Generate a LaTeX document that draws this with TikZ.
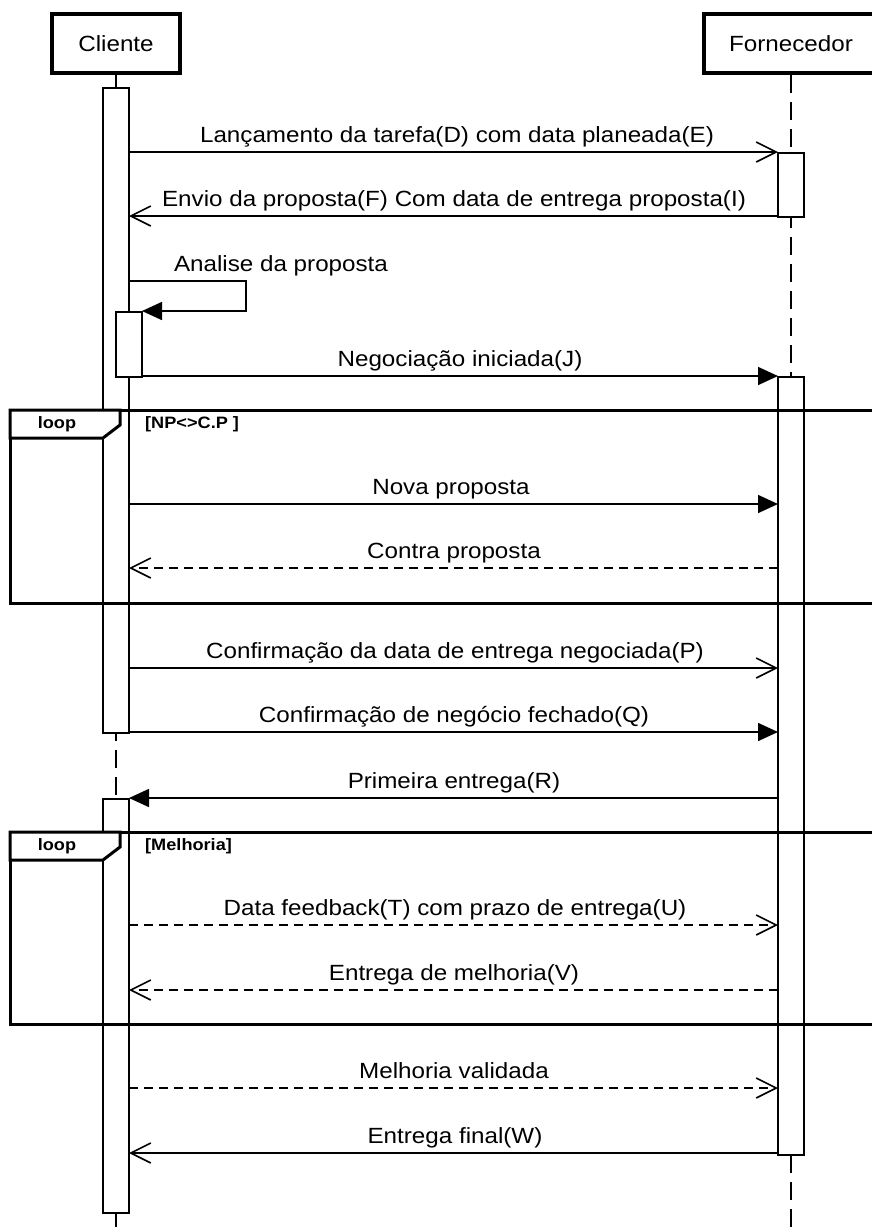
\documentclass[tikz,border=0pt]{standalone}
\usepackage{fontspec}
\setmainfont{Liberation Sans}[FakeStretch=1.1]
\usetikzlibrary{arrows.meta}
\begin{document}
\begin{tikzpicture}[x=1pt,y=-1pt,
  lbl/.style={font=\fontsize{22}{24}\selectfont, inner sep=0pt, anchor=base},
  hdrbox/.style={draw, line width=3.5pt, minimum height=59pt, font=\fontsize{22}{24}\selectfont},
  actbar/.style={draw, fill=white, line width=1.6pt, minimum width=26pt, anchor=north, inner sep=0pt},
  lifeln/.style={line width=1.8pt, dash pattern=on 18pt off 9pt},
  msg/.style={line width=1.6pt},
  dsh/.style={dash pattern=on 9pt off 6pt},
  opentip/.style={-{Straight Barb[length=20pt,width=20pt,line width=1.6pt]}},
  filltip/.style={-{Triangle[length=20pt,width=18pt]}},
  frm/.style={line width=3pt},
  looplbl/.style={font=\bfseries\fontsize{16.5}{18}\selectfont, inner sep=0pt}
]
\useasboundingbox (0,0) rectangle (872,1232);
\clip (0,0) rectangle (872,1232);
\fill[white] (0,0) rectangle (872,1232);

% headers
\node[hdrbox, minimum width=128pt] (cli) at (116,43.5) {Cliente};
\node[hdrbox, minimum width=174pt] (for) at (791,43.5) {Fornecedor};

% lifelines
\coordinate (cliend) at (116,1232);
\coordinate (forend) at (791,1232);
\draw[lifeln] (cli.south) -- (cliend);
\draw[lifeln] (for.south) -- (forend);

% activation bars
\node[actbar, minimum height=645pt] (ac1) at (116,87) {};
\node[actbar, minimum height=65pt] (ac2) at (129,311) {};
\node[actbar, minimum height=414pt] (ac3) at (116,798) {};
\node[actbar, minimum height=64pt] (af1) at (791,152) {};
\node[actbar, minimum height=778pt] (af2) at (791,376) {};

% message coordinates
\coordinate (m1a) at (129,152);  \coordinate (m1b) at (778,152);
\coordinate (m2a) at (778,216);  \coordinate (m2b) at (129,216);
\coordinate (s0) at (129,281); \coordinate (s1) at (246,281);
\coordinate (s2) at (246,311); \coordinate (s3) at (142,311);
\coordinate (m4a) at (142,376);  \coordinate (m4b) at (778,376);
\coordinate (m5a) at (129,504);  \coordinate (m5b) at (778,504);
\coordinate (m6a) at (778,568);  \coordinate (m6b) at (129,568);
\coordinate (m7a) at (129,668);  \coordinate (m7b) at (778,668);
\coordinate (m8a) at (129,732);  \coordinate (m8b) at (778,732);
\coordinate (m9a) at (778,798);  \coordinate (m9b) at (129,798);
\coordinate (m10a) at (129,925); \coordinate (m10b) at (778,925);
\coordinate (m11a) at (778,990); \coordinate (m11b) at (129,990);
\coordinate (m12a) at (129,1088); \coordinate (m12b) at (778,1088);
\coordinate (m13a) at (778,1153); \coordinate (m13b) at (129,1153);

% messages
\draw[msg, opentip] (m1a) -- (m1b);
\draw[msg, opentip] (m2a) -- (m2b);
\draw[msg, filltip] (s0) -- (s1) -- (s2) -- (s3);
\draw[msg, filltip] (m4a) -- (m4b);
\draw[msg, filltip] (m5a) -- (m5b);
\draw[msg, dsh, opentip] (m6a) -- (m6b);
\draw[msg, opentip] (m7a) -- (m7b);
\draw[msg, filltip] (m8a) -- (m8b);
\draw[msg, filltip] (m9a) -- (m9b);
\draw[msg, dsh, opentip] (m10a) -- (m10b);
\draw[msg, dsh, opentip] (m11a) -- (m11b);
\draw[msg, dsh, opentip] (m12a) -- (m12b);
\draw[msg, opentip] (m13a) -- (m13b);

% labels
\node[lbl] (l1) at (457,142) {Lançamento da tarefa(D) com data planeada(E)};
\node[lbl] (l2) at (454,206) {Envio da proposta(F) Com data de entrega proposta(I)};
\node[lbl] (l3) at (281,271) {Analise da proposta};
\node[lbl] (l4) at (460,366) {Negociação iniciada(J)};
\node[lbl] (l5) at (451,494) {Nova proposta};
\node[lbl] (l6) at (454,558) {Contra proposta};
\node[lbl] (l7) at (455,658) {Confirmação da data de entrega negociada(P)};
\node[lbl] (l8) at (454,722) {Confirmação de negócio fechado(Q)};
\node[lbl] (l9) at (454,788) {Primeira entrega(R)};
\node[lbl] (l10) at (455,915) {Data feedback(T) com prazo de entrega(U)};
\node[lbl] (l11) at (454,980) {Entrega de melhoria(V)};
\node[lbl] (l12) at (454,1078) {Melhoria validada};
\node[lbl] (l13) at (455,1143) {Entrega final(W)};

% loop frames
\draw[frm] (10,410) rectangle (885,603);
\draw[frm, fill=white] (10,410) -- (120,410) -- (120,425) -- (103,438) -- (10,438) -- cycle;
\node[looplbl] (lp1) at (57,424) {loop};
\node[looplbl, anchor=west] (g1) at (145,424) {[NP<>C.P ]};

\draw[frm] (10,832) rectangle (885,1024);
\draw[frm, fill=white] (10,832) -- (120,832) -- (120,847) -- (103,860) -- (10,860) -- cycle;
\node[looplbl] (lp2) at (57,846) {loop};
\node[looplbl, anchor=west] (g2) at (145,846) {[Melhoria]};
\end{tikzpicture}
\end{document}
